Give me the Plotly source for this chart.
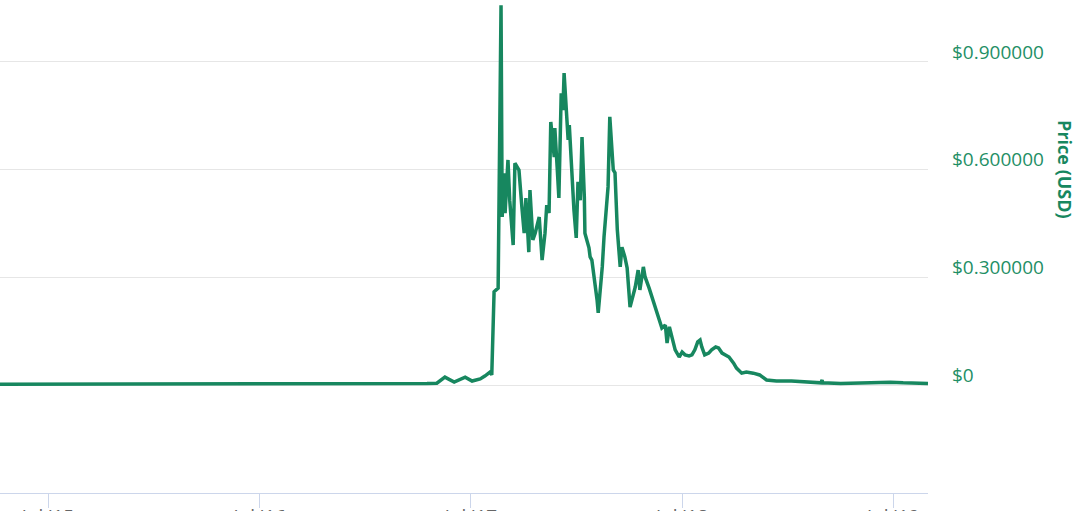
import plotly.graph_objects as go

# Price history (USD)
dates = [
    "2015-04-09", "2015-10-01", "2016-04-01", "2016-10-01", "2017-03-01", "2017-04-16",
    "2017-05-03", "2017-05-17", "2017-06-02", "2017-06-21", "2017-07-03", "2017-07-17",
    "2017-07-25", "2017-08-03", "2017-08-06", "2017-08-10", "2017-08-17", "2017-08-22",
    "2017-08-24", "2017-08-27", "2017-08-29", "2017-09-03", "2017-09-06", "2017-09-12",
    "2017-09-15", "2017-09-22", "2017-09-27", "2017-10-01", "2017-10-04", "2017-10-09",
    "2017-10-11", "2017-10-16", "2017-10-20", "2017-10-27", "2017-11-01", "2017-11-06",
    "2017-11-09", "2017-11-13", "2017-11-15", "2017-11-16", "2017-11-22", "2017-11-23",
    "2017-11-27", "2017-11-30", "2017-12-04", "2017-12-07", "2017-12-09", "2017-12-12",
    "2017-12-16", "2017-12-18", "2017-12-23", "2017-12-26", "2017-12-30", "2018-01-02",
    "2018-01-06", "2018-01-09", "2018-01-13", "2018-01-14", "2018-01-21", "2018-01-23",
    "2018-01-26", "2018-02-01", "2018-02-04", "2018-02-06", "2018-02-09", "2018-02-13",
    "2018-02-16", "2018-02-20", "2018-02-23", "2018-02-26", "2018-02-28", "2018-03-04",
    "2018-03-07", "2018-03-11", "2018-03-16", "2018-03-19", "2018-03-24", "2018-03-28",
    "2018-04-02", "2018-04-06", "2018-04-11", "2018-04-16", "2018-04-19", "2018-04-25",
    "2018-04-28", "2018-05-05", "2018-05-10", "2018-05-15", "2018-05-22", "2018-05-27",
    "2018-06-02", "2018-06-05", "2018-06-09", "2018-06-14", "2018-06-19", "2018-06-26",
    "2018-07-01", "2018-07-06", "2018-07-13", "2018-07-18", "2018-07-23", "2018-07-28",
    "2018-08-01", "2018-08-04", "2018-08-09", "2018-08-16", "2018-08-21", "2018-08-28",
    "2018-09-02", "2018-09-08", "2018-09-14", "2018-09-20", "2018-09-28", "2018-10-03",
    "2018-10-12", "2018-10-20", "2018-11-01", "2018-11-12", "2018-11-24", "2018-12-11",
    "2019-01-06", "2019-01-31", "2019-02-26", "2019-02-28", "2019-03-01", "2019-04-01",
    "2019-05-06", "2019-05-26", "2019-06-26", "2019-07-18", "2019-08-30",
]
prices = [
    0.002, 0.002, 0.002, 0.002, 0.003, 0.004,
    0.005, 0.022, 0.008, 0.022, 0.011, 0.017,
    0.025, 0.036, 0.028, 0.260, 0.270, 1.058,
    0.468, 0.590, 0.479, 0.627, 0.515, 0.390,
    0.618, 0.599, 0.496, 0.423, 0.521, 0.370,
    0.543, 0.404, 0.423, 0.468, 0.348, 0.423,
    0.501, 0.479, 0.649, 0.733, 0.635, 0.716,
    0.607, 0.521, 0.813, 0.766, 0.869, 0.786,
    0.683, 0.724, 0.543, 0.488, 0.410, 0.566,
    0.515, 0.691, 0.524, 0.423, 0.382, 0.357,
    0.348, 0.284, 0.237, 0.201, 0.256, 0.329,
    0.412, 0.479, 0.552, 0.747, 0.683, 0.599,
    0.591, 0.432, 0.329, 0.384, 0.357, 0.326,
    0.217, 0.245, 0.273, 0.320, 0.265, 0.329,
    0.301, 0.270, 0.245, 0.223, 0.181, 0.159,
    0.167, 0.117, 0.162, 0.125, 0.098, 0.078,
    0.092, 0.084, 0.081, 0.084, 0.098, 0.120,
    0.125, 0.106, 0.084, 0.089, 0.098, 0.106,
    0.103, 0.089, 0.084, 0.078, 0.061, 0.047,
    0.033, 0.036, 0.033, 0.028, 0.014, 0.011,
    0.011, 0.008, 0.006, 0.014, 0.006, 0.004,
    0.006, 0.008, 0.008, 0.006, 0.004,
]

y_tickvals = [0, 0.3, 0.6, 0.9]
y_ticktext = ["$0", "$0.300000", "$0.600000", "$0.900000"]
x_range = ["2015-04-09", "2019-08-30"]
y_range = [-0.3009, 1.0727]

GREEN = "#17875f"
LABEL_GREEN = "#1f8f66"

fig = go.Figure()
fig.add_trace(go.Scatter(
    x=dates, y=prices, mode="lines",
    line=dict(color=GREEN, width=3.5),
    showlegend=False, hoverinfo="skip",
))

fig.update_layout(
    width=1080, height=511,
    margin=dict(l=0, r=152, t=0, b=18, autoexpand=False),
    paper_bgcolor="white", plot_bgcolor="white",
    font=dict(family="Open Sans", size=19),
)
fig.update_xaxes(
    range=x_range, type="date", automargin=False,
    tick0="2015-07-01", dtick="M12", tickformat="%b '%y",
    showgrid=False, zeroline=False,
    showline=True, linecolor="#ccd6eb", linewidth=1,
    ticks="outside", ticklen=14, tickcolor="#ccd6eb", tickwidth=1,
    tickfont=dict(color="#666666", size=19),
    ticklabelstandoff=-8,
)
fig.update_yaxes(
    range=y_range, side="right", automargin=False,
    tickvals=y_tickvals, ticktext=y_ticktext,
    showgrid=True, gridcolor="#e6e6e6", gridwidth=1,
    zeroline=False, showline=False, ticks="",
    tickfont=dict(color=LABEL_GREEN, size=19),
    ticklabelstandoff=23, ticklabelshift=-10,
)
fig.add_annotation(
    text="<b>Price (USD)</b>", xref="paper", yref="paper",
    x=1.1476, y=0.655, xanchor="center", yanchor="middle",
    textangle=90, showarrow=False,
    font=dict(color=GREEN, size=18, family="Open Sans"),
)

fig.write_html(
    "out.html",
    config={"displayModeBar": False},
    post_script="document.body.style.margin='0';",
)
